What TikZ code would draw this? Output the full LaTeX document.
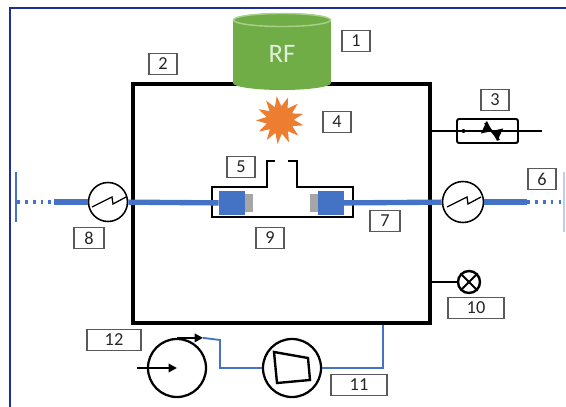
\documentclass[tikz,border=0pt]{standalone}
\usepackage{fontspec}
\setmainfont{Carlito}
\usetikzlibrary{arrows.meta, shapes.geometric}
\definecolor{frameblue}{HTML}{1F2F9A}
\definecolor{pipeblue}{HTML}{4472C4}
\definecolor{rfgreen}{HTML}{70AD47}
\definecolor{rftop}{HTML}{A9D18E}
\definecolor{plasma}{HTML}{ED7D31}
\definecolor{stripgray}{HTML}{A6A6A6}
\definecolor{tagedge}{HTML}{595959}
\newcommand{\pxu}{0.025cm}
\tikzset{
  tag/.style={draw=tagedge, line width=1.4pt, fill=white, inner sep=0pt, text=black!85,
    minimum width=28*\pxu, minimum height=21*\pxu, font=\fontsize{13}{13}\selectfont},
  widetag/.style={tag, minimum width=56*\pxu},
  wall/.style={draw, line width=2.4pt},
  hx/.style={circle, draw, fill=white, line width=1.1pt, minimum size=39*\pxu, inner sep=0pt},
  pump/.style={circle, draw, line width=1.6pt, minimum size=58*\pxu, inner sep=0pt},
  block/.style={fill=pipeblue, minimum width=26*\pxu, minimum height=24*\pxu, inner sep=0pt},
  beam/.style={pipeblue, line width=3.8pt},
  feed/.style={pipeblue, line width=2.4pt, dash pattern=on 2pt off 3.6pt},
  pipe/.style={pipeblue, line width=1.3pt},
  tip/.style={-{Triangle[length=6pt, width=6pt]}, line width=1.5pt},
}

\begin{document}
\begin{tikzpicture}[x=\pxu, y=-\pxu]
  \useasboundingbox (0,0) rectangle (566,407);
  \draw[frameblue, line width=2.1pt] (10,407) -- (10,8) -- (566,8);
  \draw[pipeblue!35, line width=1pt] (564,172) -- (564,232);

  \node[wall, minimum width=297*\pxu, minimum height=239*\pxu] (chamber) at (281.5,203.5) {};

  % RF antenna
  \fill[rfgreen] (233,20) rectangle (331,83);
  \fill[rfgreen] (282,83) ellipse [x radius=49, y radius=7];
  \fill[rfgreen] (282,20) ellipse [x radius=49, y radius=7];
  \draw[rftop, line width=1pt] (282,20) ellipse [x radius=48.5, y radius=6.5];
  \node[text=rftop!35!white, font=\fontsize{19}{19}\selectfont] (rf) at (282,54) {RF};

  \node[star, star points=13, star point ratio=1.75, fill=plasma, minimum size=48*\pxu,
    inner sep=0pt, rotate=8] (glow) at (280,120) {};

  % sample holder
  \draw[line width=2pt] (275,161) -- (267,161) -- (267,187) -- (212,187) -- (212,217)
    -- (353,217) -- (353,187) -- (297,187) -- (297,161) -- (288,161);
  \node[block] (lblock) at (232,203) {};
  \node[block] (rblock) at (330.5,203) {};
  \fill[stripgray] (245,194) rectangle (253,212);
  \fill[stripgray] (310,194) rectangle (318,212);

  % beam line
  \node[hx] (hxL) at (108,202) {};
  \node[hx, minimum size=41*\pxu] (hxR) at (463,202) {};
  \coordinate (lend) at (54,202);
  \coordinate (ltick) at (17,202);
  \coordinate (rend) at (527,202);
  \coordinate (rtick) at (566,202);
  \draw[pipeblue, line width=1.6pt] (16,172) -- (16,222);
  \draw[feed] (ltick) -- (lend);
  \draw[beam] (lend) -- (hxL);
  \draw[beam] (hxL) -- (lblock);
  \draw[beam] (rblock) -- (hxR);
  \draw[beam] (hxR) -- (rend);
  \draw[feed] (rend) -- (rtick);
  \foreach \h in {hxL,hxR}
    \draw[line width=0.9pt] ([shift={(-16,5)}]\h.center) -- ++(20,-10) -- ++(1,7) -- ++(13,-7);

  % needle valve
  \node[draw, line width=1.4pt, rounded corners=1.5pt, minimum width=61*\pxu,
    minimum height=24*\pxu, inner sep=0pt] (valve) at (487.5,131) {};
  \coordinate (vout) at (542,131);
  \draw[line width=1.4pt] (chamber.east |- valve) -- (vout);
  \fill ([xshift=-24*\pxu]valve.center) circle [radius=2];
  \fill[rotate around={-25:(492,131)}] (483,124) -- (483,138) -- (501,124) -- (501,138) -- cycle;
  \draw[line width=1.5pt] (485,123) -- (499,140);

  % gauge
  \node[circle, draw, line width=1.7pt, minimum size=22*\pxu, inner sep=0pt] (gauge) at (469,282) {};
  \draw[line width=1.4pt] (gauge.north west) -- (gauge.south east)
    (gauge.north east) -- (gauge.south west);
  \draw[line width=1.4pt] (chamber.east |- gauge) -- (gauge);

  % pumps
  \node[pump] (p12) at (177,368) {};
  \node[pump] (p11) at (292,368) {};
  \draw[line width=1.7pt] ([shift={(-18,-16)}]p11.center) -- ++(34,6) -- ++(2,22) -- ++(-33,3) -- cycle;
  \coordinate (inlet) at (137,368);
  \draw[tip] (inlet) -- (p12.center);
  \draw[tip] (p12.north) -- ++(26,0) coordinate (p12out);
  \path (chamber.south) ++(101.5,0) coordinate (tap);
  \coordinate (bend) at (220,340);
  \draw[pipe] (p12out) -- (bend) |- (p11);
  \draw[pipe] (tap) |- (p11);

  % labels
  \node[tag] (t1) at (356,41) {1};
  \node[tag] (t2) at (163,64) {2};
  \node[tag] (t3) at (495,100) {3};
  \node[tag] (t4) at (337,122) {4};
  \node[tag] (t5) at (241,167) {5};
  \node[tag] (t6) at (542,179) {6};
  \node[tag, minimum width=30*\pxu] (t7) at (385,221) {7};
  \node[tag, minimum width=30*\pxu] (t8) at (89,238) {8};
  \node[tag] (t9) at (270,238) {9};
  \node[widetag] (t10) at (476,308) {10};
  \node[widetag] (t11) at (359,385) {11};
  \node[widetag, minimum width=54*\pxu] (t12) at (114,340) {12};
\end{tikzpicture}
\end{document}
